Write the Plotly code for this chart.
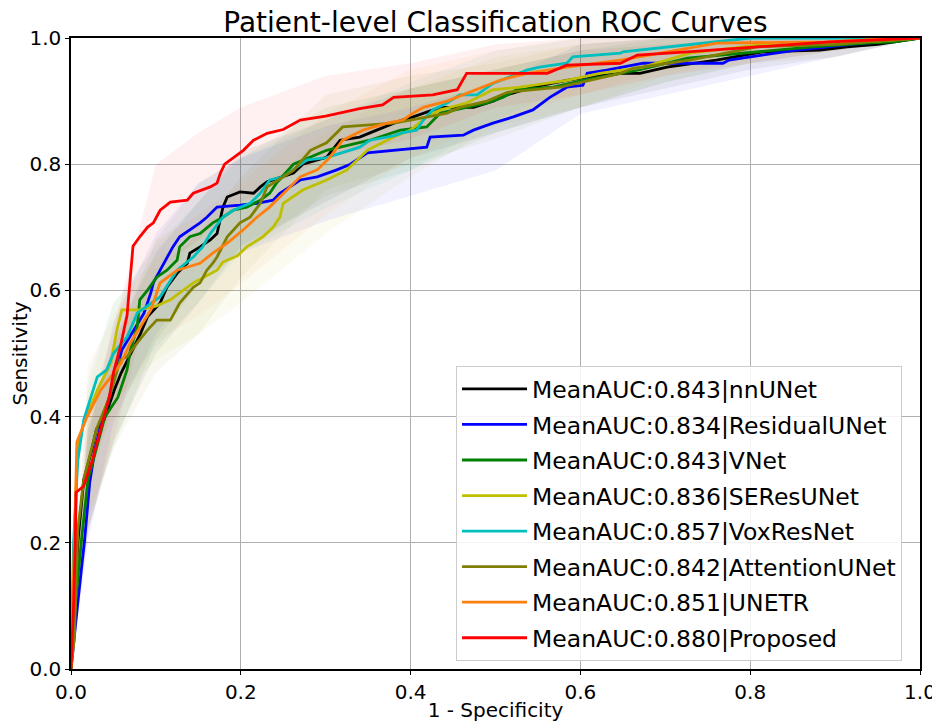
import plotly.graph_objects as go

# ---------------- data ----------------
models = ["nnUNet", "ResidualUNet", "VNet", "SEResUNet", "VoxResNet",
          "AttentionUNet", "UNETR", "Proposed"]
mean_auc = [0.843, 0.834, 0.843, 0.836, 0.857, 0.842, 0.851, 0.880]
colors = ["#000000", "#0000ff", "#008000", "#bfbf00", "#00bfbf",
          "#808000", "#ff7f0e", "#ff0000"]

fpr_nnunet = [0, 0.004, 0.008, 0.015, 0.025, 0.03, 0.039, 0.051, 0.059, 0.065, 0.074, 0.082, 0.09,
              0.105, 0.113, 0.125, 0.137, 0.14, 0.152, 0.164, 0.172, 0.176, 0.179, 0.184, 0.199,
              0.215, 0.223, 0.231, 0.262, 0.273, 0.301, 0.317, 0.34, 0.36, 0.39, 0.403, 0.435,
              0.474, 0.497, 0.514, 0.544, 0.584, 0.608, 0.647, 0.67, 0.702, 0.76, 0.815, 0.882,
              0.914, 0.95, 1.0]
tpr_nnunet = [0, 0.10, 0.20, 0.30, 0.35, 0.38, 0.395, 0.442, 0.469, 0.485, 0.51, 0.532, 0.558,
              0.58, 0.605, 0.627, 0.643, 0.659, 0.669, 0.68, 0.69, 0.716, 0.732, 0.748, 0.756,
              0.754, 0.764, 0.772, 0.786, 0.80, 0.811, 0.838, 0.843, 0.854, 0.87, 0.875, 0.89,
              0.89, 0.90, 0.91, 0.922, 0.933, 0.938, 0.944, 0.944, 0.954, 0.965, 0.978, 0.981,
              0.986, 0.99, 1.0]

fpr_resunet = [0, 0.005, 0.008, 0.013, 0.016, 0.022, 0.028, 0.034, 0.047, 0.06, 0.074, 0.086,
               0.094, 0.097, 0.105, 0.12, 0.128, 0.14, 0.152, 0.16, 0.172, 0.199, 0.219, 0.238,
               0.246, 0.27, 0.29, 0.313, 0.329, 0.349, 0.38, 0.419, 0.423, 0.462, 0.474, 0.497,
               0.521, 0.544, 0.564, 0.584, 0.603, 0.608, 0.631, 0.674, 0.768, 0.775, 0.85, 0.92, 1.0]
tpr_resunet = [0, 0.06, 0.105, 0.168, 0.204, 0.295, 0.347, 0.38, 0.44, 0.506, 0.537, 0.564,
               0.596, 0.612, 0.632, 0.669, 0.685, 0.696, 0.707, 0.716, 0.732, 0.735, 0.738, 0.743,
               0.754, 0.775, 0.78, 0.791, 0.80, 0.818, 0.822, 0.827, 0.843, 0.846, 0.854, 0.865,
               0.875, 0.886, 0.906, 0.922, 0.925, 0.944, 0.949, 0.96, 0.96, 0.965, 0.98, 0.99, 1.0]

fpr_vnet = [0, 0.005, 0.012, 0.02, 0.03, 0.04, 0.055, 0.066, 0.07, 0.078, 0.081, 0.09, 0.101,
            0.113, 0.125, 0.128, 0.14, 0.152, 0.167, 0.179, 0.191, 0.207, 0.223, 0.234, 0.242,
            0.262, 0.301, 0.352, 0.388, 0.419, 0.435, 0.466, 0.49, 0.509, 0.525, 0.568, 0.603,
            0.647, 0.67, 0.726, 0.874, 0.937, 0.97, 1.0]
tpr_vnet = [0, 0.10, 0.20, 0.30, 0.35, 0.40, 0.43, 0.474, 0.506, 0.542, 0.585, 0.60, 0.621,
            0.632, 0.648, 0.669, 0.685, 0.69, 0.707, 0.716, 0.727, 0.732, 0.743, 0.754, 0.77,
            0.80, 0.822, 0.838, 0.854, 0.859, 0.881, 0.89, 0.897, 0.906, 0.918, 0.922, 0.933,
            0.944, 0.95, 0.968, 0.986, 0.992, 0.994, 1.0]

fpr_seresunet = [0, 0.002, 0.005, 0.007, 0.015, 0.031, 0.047, 0.054, 0.06, 0.081, 0.1, 0.117,
                 0.128, 0.144, 0.172, 0.179, 0.196, 0.207, 0.226, 0.238, 0.246, 0.25, 0.273,
                 0.301, 0.325, 0.349, 0.356, 0.38, 0.4, 0.419, 0.435, 0.466, 0.497, 0.529, 0.584,
                 0.623, 0.674, 0.729, 0.811, 0.898, 0.95, 1.0]
tpr_seresunet = [0, 0.05, 0.20, 0.347, 0.39, 0.442, 0.485, 0.537, 0.569, 0.569, 0.575, 0.585,
                 0.596, 0.612, 0.632, 0.645, 0.655, 0.669, 0.685, 0.70, 0.716, 0.738, 0.759,
                 0.775, 0.791, 0.822, 0.827, 0.843, 0.854, 0.875, 0.886, 0.897, 0.918, 0.922,
                 0.933, 0.944, 0.954, 0.976, 0.989, 0.992, 0.995, 1.0]

fpr_voxresnet = [0, 0.003, 0.008, 0.012, 0.015, 0.031, 0.042, 0.05, 0.066, 0.078, 0.09, 0.105,
                 0.125, 0.144, 0.155, 0.164, 0.179, 0.191, 0.211, 0.223, 0.234, 0.25, 0.278, 0.30,
                 0.34, 0.352, 0.38, 0.391, 0.407, 0.415, 0.426, 0.443, 0.458, 0.478, 0.497, 0.537,
                 0.552, 0.584, 0.591, 0.647, 0.65, 0.702, 0.761, 0.80, 1.0]
tpr_voxresnet = [0, 0.2, 0.33, 0.37, 0.395, 0.463, 0.474, 0.50, 0.526, 0.564, 0.575, 0.59,
                 0.632, 0.653, 0.669, 0.69, 0.716, 0.727, 0.738, 0.754, 0.775, 0.78, 0.807, 0.81,
                 0.827, 0.838, 0.845, 0.85, 0.854, 0.87, 0.886, 0.897, 0.91, 0.91, 0.928, 0.949,
                 0.954, 0.96, 0.97, 0.976, 0.978, 0.986, 0.994, 1.0, 1.0]

fpr_attunet = [0, 0.004, 0.008, 0.015, 0.03, 0.045, 0.058, 0.066, 0.078, 0.09, 0.101, 0.117,
               0.128, 0.144, 0.152, 0.16, 0.167, 0.172, 0.184, 0.199, 0.211, 0.223, 0.231, 0.262,
               0.282, 0.301, 0.32, 0.38, 0.40, 0.419, 0.443, 0.458, 0.49, 0.514, 0.576, 0.647,
               0.662, 0.729, 0.808, 0.9, 1.0]
tpr_attunet = [0, 0.05, 0.22, 0.30, 0.38, 0.43, 0.49, 0.495, 0.517, 0.537, 0.553, 0.553, 0.58,
               0.605, 0.612, 0.632, 0.643, 0.653, 0.685, 0.707, 0.716, 0.738, 0.764, 0.79, 0.822,
               0.834, 0.859, 0.865, 0.87, 0.875, 0.881, 0.89, 0.90, 0.914, 0.922, 0.944, 0.952,
               0.965, 0.986, 0.99, 1.0]

fpr_unetr = [0, 0.004, 0.006, 0.007, 0.019, 0.035, 0.047, 0.059, 0.07, 0.082, 0.094, 0.105,
             0.125, 0.152, 0.167, 0.184, 0.203, 0.219, 0.234, 0.246, 0.27, 0.29, 0.305, 0.32,
             0.344, 0.372, 0.391, 0.403, 0.415, 0.443, 0.505, 0.537, 0.584, 0.647, 0.729, 0.761,
             0.89, 0.95, 1.0]
tpr_unetr = [0, 0.2, 0.31, 0.36, 0.40, 0.442, 0.463, 0.485, 0.517, 0.542, 0.569, 0.612, 0.632,
             0.643, 0.659, 0.675, 0.696, 0.716, 0.732, 0.748, 0.78, 0.791, 0.811, 0.838, 0.854,
             0.865, 0.87, 0.881, 0.89, 0.90, 0.933, 0.944, 0.954, 0.965, 0.984, 0.992, 0.994,
             0.998, 1.0]

fpr_proposed = [0, 0.003, 0.005, 0.006, 0.015, 0.025, 0.035, 0.045, 0.05, 0.058, 0.066, 0.07,
                0.073, 0.081, 0.09, 0.097, 0.105, 0.117, 0.137, 0.144, 0.164, 0.172, 0.176,
                0.181, 0.191, 0.203, 0.215, 0.231, 0.25, 0.27, 0.30, 0.317, 0.34, 0.367, 0.38,
                0.426, 0.455, 0.466, 0.561, 0.584, 0.647, 0.667, 0.726, 0.894, 1.0]
tpr_proposed = [0, 0.10, 0.20, 0.28, 0.29, 0.33, 0.38, 0.43, 0.47, 0.51, 0.56, 0.62, 0.67,
                0.685, 0.70, 0.707, 0.727, 0.74, 0.743, 0.754, 0.764, 0.77, 0.786, 0.80, 0.81,
                0.822, 0.838, 0.849, 0.855, 0.87, 0.876, 0.881, 0.888, 0.894, 0.906, 0.91, 0.918,
                0.944, 0.944, 0.957, 0.96, 0.973, 0.978, 0.994, 1.0]

# std bands (lower / upper) on a coarse 1-specificity grid
band_fpr = [0, 0.02, 0.05, 0.1, 0.15, 0.2, 0.3, 0.4, 0.5, 0.6, 0.7, 0.8, 0.9, 1.0]
band_lo_nnunet = [0, 0.22, 0.36, 0.50, 0.58, 0.67, 0.74, 0.81, 0.85, 0.89, 0.92, 0.95, 0.97, 1.0]
band_hi_nnunet = [0.06, 0.38, 0.52, 0.66, 0.74, 0.82, 0.87, 0.92, 0.95, 0.98, 0.99, 1.0, 1.0, 1.0]
band_lo_resunet = [0, 0.20, 0.39, 0.53, 0.62, 0.66, 0.71, 0.75, 0.79, 0.88, 0.91, 0.94, 0.97, 1.0]
band_hi_resunet = [0.05, 0.36, 0.55, 0.69, 0.77, 0.81, 0.86, 0.89, 0.93, 0.99, 1.0, 1.0, 1.0, 1.0]
band_lo_vnet = [0, 0.22, 0.35, 0.52, 0.61, 0.66, 0.75, 0.79, 0.85, 0.89, 0.93, 0.96, 0.98, 1.0]
band_hi_vnet = [0.06, 0.38, 0.51, 0.68, 0.77, 0.81, 0.89, 0.92, 0.95, 0.98, 1.0, 1.0, 1.0, 1.0]
band_lo_seresunet = [0, 0.28, 0.42, 0.49, 0.53, 0.58, 0.69, 0.78, 0.86, 0.89, 0.94, 0.97, 0.98, 1.0]
band_hi_seresunet = [0.06, 0.44, 0.58, 0.65, 0.69, 0.74, 0.85, 0.92, 0.97, 0.99, 1.0, 1.0, 1.0, 1.0]
band_lo_voxresnet = [0, 0.30, 0.42, 0.51, 0.58, 0.66, 0.73, 0.79, 0.87, 0.93, 0.96, 0.98, 0.99, 1.0]
band_hi_voxresnet = [0.07, 0.46, 0.58, 0.67, 0.74, 0.81, 0.87, 0.93, 0.98, 1.0, 1.0, 1.0, 1.0, 1.0]
band_lo_attunet = [0, 0.24, 0.35, 0.47, 0.53, 0.62, 0.76, 0.80, 0.84, 0.89, 0.93, 0.96, 0.97, 1.0]
band_hi_attunet = [0.06, 0.40, 0.51, 0.63, 0.69, 0.78, 0.91, 0.94, 0.96, 0.99, 1.0, 1.0, 1.0, 1.0]
band_lo_unetr = [0, 0.32, 0.40, 0.52, 0.56, 0.61, 0.72, 0.81, 0.87, 0.91, 0.95, 0.97, 0.98, 1.0]
band_hi_unetr = [0.07, 0.48, 0.56, 0.68, 0.72, 0.77, 0.88, 0.95, 0.98, 1.0, 1.0, 1.0, 1.0, 1.0]
band_lo_proposed = [0, 0.22, 0.36, 0.63, 0.68, 0.74, 0.81, 0.84, 0.89, 0.91, 0.94, 0.96, 0.98, 1.0]
band_hi_proposed = [0.07, 0.40, 0.54, 0.80, 0.85, 0.89, 0.94, 0.96, 0.99, 1.0, 1.0, 1.0, 1.0, 1.0]

fprs = [fpr_nnunet, fpr_resunet, fpr_vnet, fpr_seresunet, fpr_voxresnet, fpr_attunet, fpr_unetr, fpr_proposed]
tprs = [tpr_nnunet, tpr_resunet, tpr_vnet, tpr_seresunet, tpr_voxresnet, tpr_attunet, tpr_unetr, tpr_proposed]
band_los = [band_lo_nnunet, band_lo_resunet, band_lo_vnet, band_lo_seresunet, band_lo_voxresnet,
            band_lo_attunet, band_lo_unetr, band_lo_proposed]
band_his = [band_hi_nnunet, band_hi_resunet, band_hi_vnet, band_hi_seresunet, band_hi_voxresnet,
            band_hi_attunet, band_hi_unetr, band_hi_proposed]

x_ticks = [0.0, 0.2, 0.4, 0.6, 0.8, 1.0]
y_ticks = [0.0, 0.2, 0.4, 0.6, 0.8, 1.0]


def rgba(hexcol, a):
    h = hexcol.lstrip("#")
    r, g, b = int(h[0:2], 16), int(h[2:4], 16), int(h[4:6], 16)
    return f"rgba({r},{g},{b},{a})"


FONT = "DejaVu Sans"
# the page body adds an 8px offset, so the figure is 932x718
W, H = 932, 718
fig = go.Figure()

# shaded std bands
for lo, hi, c in zip(band_los, band_his, colors):
    fig.add_trace(go.Scatter(x=band_fpr, y=lo, mode="lines", line=dict(width=0),
                             showlegend=False, hoverinfo="skip"))
    fig.add_trace(go.Scatter(x=band_fpr, y=hi, mode="lines", line=dict(width=0),
                             fill="tonexty", fillcolor=rgba(c, 0.055),
                             showlegend=False, hoverinfo="skip"))

# mean ROC curves
for i, (m, auc, c) in enumerate(zip(models, mean_auc, colors)):
    fig.add_trace(go.Scatter(x=fprs[i], y=tprs[i], mode="lines",
                             line=dict(color=c, width=2.8),
                             name=f"MeanAUC:{auc:.3f}|{m}",
                             legendgroup=f"g{i}"))

fig.update_layout(
    width=W, height=H,
    margin=dict(l=63, r=20, t=30, b=57),
    paper_bgcolor="white", plot_bgcolor="white",
    font=dict(family=FONT, size=20, color="black"),
    title=dict(text="Patient-level Classification ROC Curves",
               x=0.5, xref="paper", y=1 - 4 / H, yref="container",
               yanchor="top", xanchor="center",
               font=dict(family=FONT, size=28, color="black")),
    showlegend=True,
    legend=dict(x=0.4535, y=0.48, xanchor="left", yanchor="top",
                bgcolor="rgba(255,255,255,0.85)", bordercolor="#cccccc", borderwidth=1,
                font=dict(family=FONT, size=23.5, color="black"),
                tracegroupgap=2, itemwidth=65),
)
fig.update_xaxes(range=[0, 1], tickvals=x_ticks, ticktext=[f"{v:.1f}" for v in x_ticks],
                 showgrid=True, gridcolor="#b0b0b0", gridwidth=1, automargin=False,
                 showline=True, linecolor="black", linewidth=1.5, mirror=True,
                 ticks="outside", ticklen=4, tickcolor="black", zeroline=False,
                 title=dict(text="1 - Specificity", standoff=0, font=dict(size=20)))
fig.update_yaxes(range=[0, 1], tickvals=y_ticks, ticktext=[f"{v:.1f}" for v in y_ticks],
                 showgrid=True, gridcolor="#b0b0b0", gridwidth=1, automargin=False,
                 showline=True, linecolor="black", linewidth=1.5, mirror=True,
                 ticks="outside", ticklen=4, tickcolor="black", zeroline=False,
                 title=dict(text="Sensitivity", standoff=0, font=dict(size=20)))

fig.write_html("out.html")
